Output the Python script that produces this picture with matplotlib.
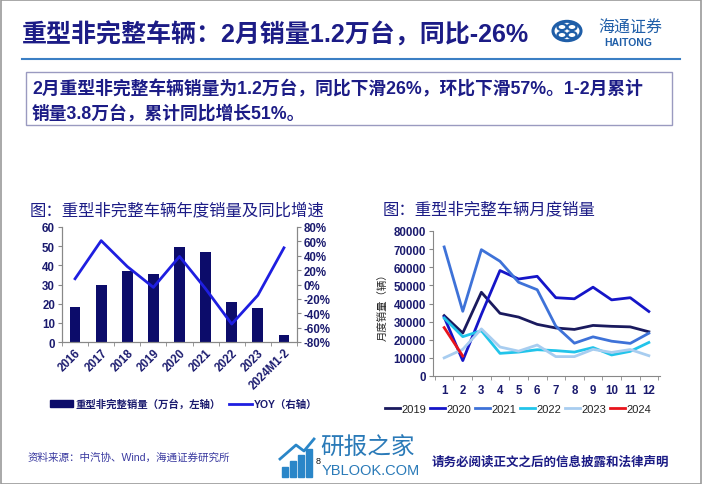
import matplotlib
matplotlib.use("Agg")
import matplotlib.pyplot as plt
from matplotlib.patches import Rectangle, Circle
from matplotlib.lines import Line2D
import numpy as np

plt.rcParams['font.family'] = ['Liberation Sans', 'Noto Sans CJK SC', 'DejaVu Sans']

W, H = 702, 485
NAVY = "#14147a"
TXT = "#1a1a6e"

# annual chart
years = ["2016", "2017", "2018", "2019", "2020", "2021", "2022", "2023", "2024M1-2"]
sales = [18.5, 29.7, 37.2, 35.7, 49.8, 46.8, 20.8, 17.6, 3.8]
yoy = [8, 61, 25, -4, 39, -6, -55, -15, 51]

# monthly chart
months = list(range(1, 13))
m2019 = [33300, 23700, 46200, 34600, 32500, 28500, 26500, 25700, 27900, 27400, 27100, 24400]
m2020 = [32500, 8500, 34000, 58200, 53500, 55000, 43200, 42600, 49000, 42000, 43200, 35600]
m2021 = [71200, 35700, 69700, 63300, 51700, 47600, 27500, 18100, 21600, 19200, 18000, 23600]
m2022 = [32000, 21700, 25000, 12500, 13200, 14500, 14000, 13200, 15700, 11600, 13600, 18500]
m2023 = [10000, 14700, 26000, 16000, 13700, 17100, 10700, 10700, 14700, 13000, 14600, 11200]
m2024 = [26700, 11000]
series = [("2019", m2019, "#1a1a5e"), ("2020", m2020, "#1515c8"), ("2021", m2021, "#3e72d8"),
          ("2022", m2022, "#22c4ea"), ("2023", m2023, "#a8cdf0"), ("2024", m2024, "#e8141c")]

fig = plt.figure(figsize=(W / 100, H / 100), dpi=100)
fig.patch.set_facecolor("white")


def fx(x):
    return x / W


def fy(y):
    return 1 - y / H


def ftext(x, y, s, **kw):
    fig.text(fx(x), fy(y), s, **kw)


# page frame
fig.add_artist(Rectangle((0.001, 0.001), 0.997, 0.997, transform=fig.transFigure,
                         fill=False, ec="#9a9a9a", lw=1.2))

# header
ftext(22, 35, "重型非完整车辆：2月销量1.2万台，同比-26%", fontsize=18, fontweight="bold",
      color="#1c1c86", va="center", ha="left")
fig.add_artist(Line2D([fx(22), fx(680)], [fy(60), fy(60)], transform=fig.transFigure,
                      color="#3b7fc4", lw=1.5))
# logo
fig.add_artist(Circle((fx(567), fy(32)), 14 / W, transform=fig.transFigure, fill=False,
                      ec="#1f5ea8", lw=2.2))
for dx, dy in [(-5, -4), (5, -4), (-5, 4), (5, 4)]:
    fig.add_artist(Circle((fx(567 + dx), fy(32 + dy)), 4.5 / W, transform=fig.transFigure,
                          fill=False, ec="#1f5ea8", lw=1.6))
ftext(630, 28, "海通证券", fontsize=11.5, color="#1f5ea8", ha="center", va="center",
      style="italic", family=['Noto Sans CJK SC', 'DejaVu Sans'])
ftext(628, 43, "HAITONG", fontsize=7.5, fontweight="bold", color="#1f5ea8", ha="center",
      va="center")

# summary box
fig.add_artist(Rectangle((fx(26), fy(126)), fx(672) - fx(26), fy(73) - fy(126),
                         transform=fig.transFigure, fill=False, ec="#9a9ac0", lw=1))
ftext(32, 89, "2月重型非完整车辆销量为1.2万台，同比下滑26%，环比下滑57%。1-2月累计",
      fontsize=12.8, fontweight="bold", color="#1c1c86", va="center")
ftext(32, 113, "销量3.8万台，累计同比增长51%。", fontsize=12.8, fontweight="bold",
      color="#1c1c86", va="center")

# chart titles
ftext(30, 210, "图：重型非完整车辆年度销量及同比增速", fontsize=11.8, color="#1c1c86", va="center")
ftext(383, 210, "图：重型非完整车辆月度销量", fontsize=11.8, color="#1c1c86", va="center")

# ---- left chart
ax1 = fig.add_axes([fx(62), fy(343), fx(297) - fx(62), fy(228) - fy(343)])
x = np.arange(len(years))
ax1.bar(x, sales, width=0.41, color="#0c0c6a", zorder=2)
ax1.set_xlim(-0.5, len(years) - 0.5)
ax1.set_ylim(0, 60)
ax1.set_yticks(range(0, 61, 10))
ax1.set_xticks(x)
ax1.set_xticklabels(years, rotation=45, ha="right", rotation_mode="anchor")
ax1.set_xticks(np.arange(-0.5, len(years)), minor=True)
ax1.tick_params(axis="x", which="major", length=0, pad=3)
ax1.tick_params(axis="x", which="minor", length=3, color="#888888")
ax1.tick_params(axis="y", length=3, color="#888888", pad=2)
ax1b = ax1.twinx()
ax1b.plot(x, yoy, color="#1e1ee0", lw=2, zorder=3)
ax1b.set_ylim(-80, 80)
ax1b.set_yticks(range(-80, 81, 20))
ax1b.set_yticklabels([f"{v}%" for v in range(-80, 81, 20)])
ax1b.tick_params(axis="y", length=3, color="#888888", pad=2)
for a in (ax1, ax1b):
    a.spines["top"].set_visible(False)
    for s in ("left", "right", "bottom"):
        a.spines[s].set_color("#888888")
        a.spines[s].set_linewidth(0.8)
    for lab in a.get_xticklabels() + a.get_yticklabels():
        lab.set_fontsize(8.3)
        lab.set_fontweight("bold")
        lab.set_color(TXT)

h1 = Rectangle((0, 0), 1, 1, color="#0c0c6a")
h2 = Line2D([], [], color="#1e1ee0", lw=2)
fig.legend([h1, h2], ["重型非完整销量（万台，左轴）", "YOY（右轴）"],
           loc="center", bbox_to_anchor=(fx(184), fy(405)), ncol=2, frameon=False,
           handlelength=2.2, handletextpad=0.2, columnspacing=0.8,
           prop={"size": 7.5, "weight": "bold"}, labelcolor=TXT)

# ---- right chart
ax2 = fig.add_axes([fx(433), fy(377), fx(660) - fx(433), fy(232) - fy(377)])
for name, vals, c in series:
    ax2.plot(months[:len(vals)], vals, color=c, lw=2, label=name)
ax2.set_xlim(0.4, 12.6)
ax2.set_ylim(0, 80000)
ax2.set_yticks(range(0, 80001, 10000))
ax2.set_xticks(months)
ax2.set_xticks(np.arange(0.5, 13, 1), minor=True)
ax2.tick_params(axis="x", which="major", length=0, pad=6)
ax2.tick_params(axis="x", which="minor", length=3, color="#888888")
ax2.tick_params(axis="y", length=3, color="#888888", pad=2)
ax2.spines["top"].set_visible(False)
ax2.spines["right"].set_visible(False)
for s in ("left", "bottom"):
    ax2.spines[s].set_color("#888888")
    ax2.spines[s].set_linewidth(0.8)
for lab in ax2.get_xticklabels() + ax2.get_yticklabels():
    lab.set_fontsize(8.3)
    lab.set_fontweight("bold")
    lab.set_color(TXT)
ax2.set_ylabel("月度销量（辆）", fontsize=7.5, color="#222222", labelpad=4,
               family=['Noto Sans CJK SC', 'DejaVu Sans'])
fig.legend(*ax2.get_legend_handles_labels(), loc="center", bbox_to_anchor=(fx(518), fy(410)),
           ncol=6, frameon=False, handlelength=1.4, handletextpad=0.12, columnspacing=0.3,
           prop={"size": 8}, labelcolor="#222222")

# footer
ftext(28, 458, "资料来源：中汽协、Wind，海通证券研究所", fontsize=7.6, color="#3a3aa0", va="center")
ftext(432, 463, "请务必阅读正文之后的信息披露和法律声明", fontsize=9, color="#1c1c86",
      va="center", fontweight="bold")
# watermark
for i, hgt in enumerate([10, 16, 22, 28]):
    fig.add_artist(Rectangle((fx(282 + i * 8), fy(478)), 5.5 / W, hgt / H,
                             transform=fig.transFigure, color="#2a86c8"))
fig.add_artist(Line2D([fx(280), fx(296), fx(304), fx(314)], [fy(460), fy(446), fy(452), fy(440)],
                      transform=fig.transFigure, color="#2a86c8", lw=2))
ftext(320, 447, "研报之家", fontsize=17, color="#2a7ab8", va="center",
      family=['Noto Sans CJK SC', 'DejaVu Sans'])
ftext(322, 471, "YBLOOK.COM", fontsize=10.5, color="#2a7ab8", va="center")
ftext(316, 462, "8", fontsize=6.5, color="#111111", va="center")

fig.savefig("out.png", dpi=100)
